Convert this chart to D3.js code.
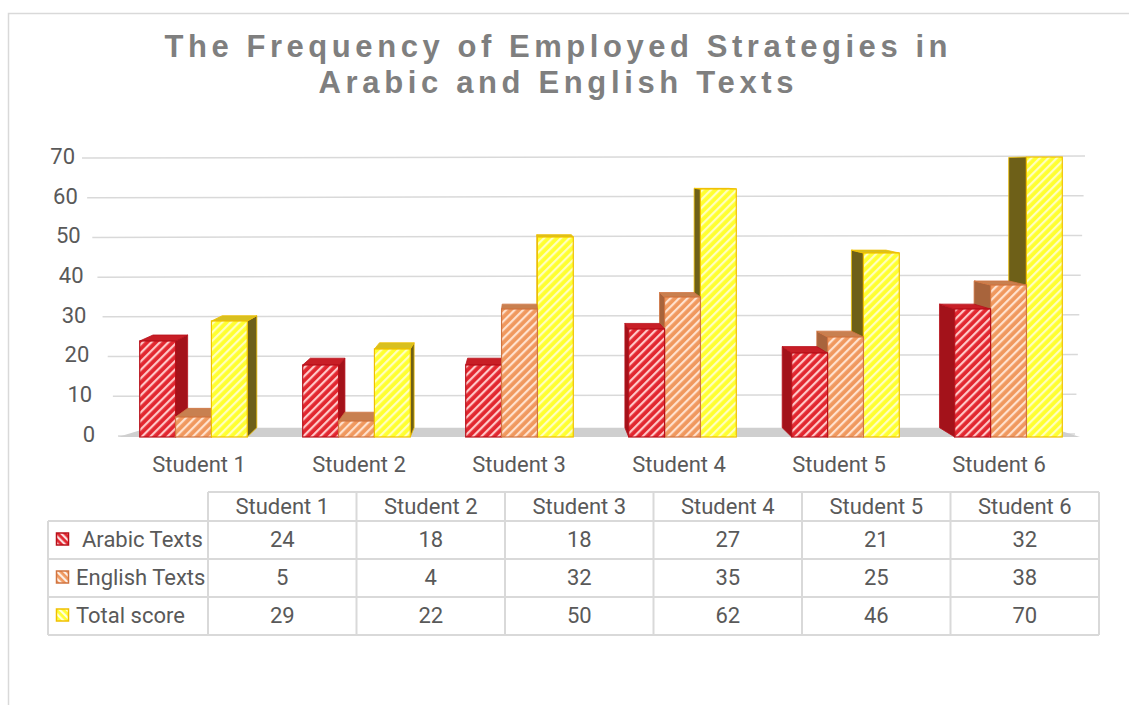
<!DOCTYPE html>
<html>
<head>
<meta charset="utf-8">
<script src="https://cdn.jsdelivr.net/npm/d3@7"></script>
<style>
  html, body { margin: 0; padding: 0; background: #ffffff; }
  svg { display: block; }
</style>
</head>
<body>
<svg id="chart" width="1129" height="705"></svg>
<script>
// ---------- data ----------
const categories = ["Student 1", "Student 2", "Student 3", "Student 4", "Student 5", "Student 6"];
const seriesNames = ["Arabic Texts", "English Texts", "Total score"];
const arabicTexts = [24, 18, 18, 27, 21, 32];
const englishTexts = [5, 4, 32, 35, 25, 38];
const totalScore = [29, 22, 50, 62, 46, 70];
const yTicks = [0, 10, 20, 30, 40, 50, 60, 70];
const titleLines = ["The Frequency of Employed Strategies in", "Arabic and English Texts"];

const seriesValues = [arabicTexts, englishTexts, totalScore];

// ---------- styles ----------
const styles = [
  { base: "#e2262f", stripe: "#ffc8c8", stroke: "#b8101a", side: "#a3121a", top: "#c81e26" },
  { base: "#f0985e", stripe: "#ffe2cf", stroke: "#d07440", side: "#a8643c", top: "#c88050" },
  { base: "#ffff30", stripe: "#ffffc0", stroke: "#f0c000", side: "#6e6018", top: "#d8c020" }
];
const textColor = "#595959";
const gridColor = "#d9d9d9";
const font = "Roboto, 'Open Sans', sans-serif";
const fs = 22;

const svg = d3.select("#chart");
const defs = svg.append("defs");

styles.forEach((s, i) => {
  const p = defs.append("pattern")
    .attr("id", "hatch" + i)
    .attr("patternUnits", "userSpaceOnUse")
    .attr("width", 6).attr("height", 6)
    .attr("patternTransform", "rotate(45)");
  p.append("rect").attr("width", 6).attr("height", 6).attr("fill", s.base);
  p.append("rect").attr("x", 0).attr("width", 2.2).attr("height", 6).attr("fill", s.stripe);
  const ps = defs.append("pattern")
    .attr("id", "hatchSmall" + i)
    .attr("patternUnits", "userSpaceOnUse")
    .attr("width", 5).attr("height", 5)
    .attr("patternTransform", "rotate(-45)");
  ps.append("rect").attr("width", 5).attr("height", 5).attr("fill", s.base);
  ps.append("rect").attr("width", 2.2).attr("height", 5).attr("fill", "#ffffff").attr("opacity", 0.85);
});

// ---------- chart border ----------
svg.append("path")
  .attr("d", "M8.5,705 L8.5,13.5 L1129,13.5")
  .attr("fill", "none").attr("stroke", gridColor).attr("stroke-width", 1.5);

// ---------- title ----------
const titleX = [556, 556];
const titleY = [57, 93];
const titleLen = [783, 475];
svg.append("g").selectAll("text").data(titleLines).join("text")
  .attr("x", (d, i) => titleX[i])
  .attr("y", (d, i) => titleY[i])
  .attr("text-anchor", "middle")
  .attr("textLength", (d, i) => titleLen[i])
  .attr("lengthAdjust", "spacing")
  .attr("font-family", "'Liberation Sans', Arial, sans-serif")
  .attr("font-weight", "bold")
  .attr("font-size", 31)
  .attr("fill", "#7f7f7f")
  .text(d => d);

// ---------- scales ----------
const yBar = d3.scaleLinear().domain([0, 70]).range([437, 157]);
const yGrid = d3.scaleLinear().domain([0, 70]).range([434, 156]);
const x = d3.scaleBand().domain(categories).range([112, 1090]).paddingInner(0.34).paddingOuter(0.17);
const xs = d3.scaleBand().domain(seriesNames).range([0, x.bandwidth()]);
const xLabel = d3.scalePoint().domain(categories).range([199, 999]);

// perspective
const vp = [520, 170];
const depth = 0.035;
const back = (px, py) => [px + (vp[0] - px) * depth, py + (vp[1] - py) * depth];

// ---------- gridlines ----------
const gridG = svg.append("g");
gridG.selectAll("line").data(yTicks).join("line")
  .attr("x1", d => 118 - d / 70 * 36)
  .attr("x2", d => 1075 + d / 70 * 10)
  .attr("y1", d => yGrid(d) + 2)
  .attr("y2", d => yGrid(d))
  .attr("stroke", gridColor).attr("stroke-width", 1.5);

// y labels
svg.append("g").selectAll("text").data(yTicks).join("text")
  .attr("x", d => 95 - d / 70 * 20)
  .attr("y", d => yGrid(d))
  .attr("dy", "0.36em")
  .attr("text-anchor", "end")
  .attr("font-family", font)
  .attr("font-size", fs)
  .attr("fill", textColor)
  .text(d => d);

// ---------- floor ----------
const fl = [[118, yBar(0)], [1080, yBar(0)]];
const flb = [back(135, yBar(0)), back(1070, yBar(0))];
svg.append("path")
  .attr("d", d3.line()([fl[0], fl[1], flb[1], flb[0]]) + "Z")
  .attr("fill", "#cfcfcf");

// ---------- bars ----------
const bars = [];
categories.forEach((c, ci) => {
  seriesNames.forEach((s, si) => {
    const x0 = x(c) + xs(s);
    const x1 = x0 + xs.bandwidth();
    bars.push({ c, s, si, v: seriesValues[si][ci], x0, x1 });
  });
});
// draw farthest from vanishing point first
bars.sort((a, b) => Math.abs((b.x0 + b.x1) / 2 - vp[0]) - Math.abs((a.x0 + a.x1) / 2 - vp[0]));

const barG = svg.append("g");
bars.forEach(b => {
  const st = styles[b.si];
  const yt = yBar(b.v), yb = yBar(0);
  const g = barG.append("g");
  if (b.x1 < vp[0]) {
    const p1 = back(b.x1, yt), p2 = back(b.x1, yb);
    g.append("path").attr("d", d3.line()([[b.x1, yt], p1, p2, [b.x1, yb]]) + "Z")
      .attr("fill", st.side).attr("stroke", st.stroke).attr("stroke-width", 0.8);
  } else if (b.x0 > vp[0]) {
    const p1 = back(b.x0, yt), p2 = back(b.x0, yb);
    g.append("path").attr("d", d3.line()([[b.x0, yt], p1, p2, [b.x0, yb]]) + "Z")
      .attr("fill", st.side).attr("stroke", st.stroke).attr("stroke-width", 0.8);
  }
  if (yt > vp[1]) {
    const p0 = back(b.x0, yt), p1 = back(b.x1, yt);
    g.append("path").attr("d", d3.line()([[b.x0, yt], p0, p1, [b.x1, yt]]) + "Z")
      .attr("fill", st.top).attr("stroke", st.stroke).attr("stroke-width", 0.8);
  }
  g.append("rect")
    .attr("x", b.x0).attr("y", yt)
    .attr("width", b.x1 - b.x0).attr("height", yb - yt)
    .attr("fill", `url(#hatch${b.si})`)
    .attr("stroke", st.stroke).attr("stroke-width", 1.2);
});

// ---------- category labels ----------
svg.append("g").selectAll("text").data(categories).join("text")
  .attr("x", d => xLabel(d))
  .attr("y", 464)
  .attr("dy", "0.36em")
  .attr("text-anchor", "middle")
  .attr("font-family", font)
  .attr("font-size", fs)
  .attr("fill", textColor)
  .text(d => d);

// ---------- data table ----------
const tableLeft = 48, tableRight = 1099;
const colX = d3.scaleBand().domain(categories).range([208, tableRight]);
const rowTops = [492, 521, 559, 597, 635];
const tbl = svg.append("g");
function tline(x1, y1, x2, y2) {
  tbl.append("line").attr("x1", x1).attr("y1", y1).attr("x2", x2).attr("y2", y2)
    .attr("stroke", gridColor).attr("stroke-width", 2);
}
tline(208, rowTops[0], tableRight, rowTops[0]);
for (let r = 1; r < rowTops.length; r++) tline(tableLeft, rowTops[r], tableRight, rowTops[r]);
tline(tableLeft, rowTops[1], tableLeft, rowTops[4]);
categories.forEach(c => tline(colX(c), rowTops[0], colX(c), rowTops[4]));
tline(tableRight, rowTops[0], tableRight, rowTops[4]);

tbl.selectAll("text.hdr").data(categories).join("text")
  .attr("class", "hdr")
  .attr("x", d => colX(d) + colX.bandwidth() / 2)
  .attr("y", (rowTops[0] + rowTops[1]) / 2)
  .attr("dy", "0.36em")
  .attr("text-anchor", "middle")
  .attr("font-family", font).attr("font-size", fs).attr("fill", textColor)
  .text(d => d);

const nameX = [82, 76, 76];
seriesNames.forEach((s, si) => {
  const yc = (rowTops[si + 1] + rowTops[si + 2]) / 2 - 1;
  const st = styles[si];
  tbl.append("rect")
    .attr("x", 56.5).attr("y", yc - 6)
    .attr("width", 12).attr("height", 12)
    .attr("fill", `url(#hatchSmall${si})`)
    .attr("stroke", st.stroke).attr("stroke-width", 1.5);
  tbl.append("text")
    .attr("x", nameX[si]).attr("y", yc)
    .attr("dy", "0.36em")
    .attr("font-family", font).attr("font-size", fs).attr("fill", textColor)
    .text(s);
  tbl.selectAll("text.v" + si).data(categories).join("text")
    .attr("class", "v" + si)
    .attr("x", d => colX(d) + colX.bandwidth() / 2)
    .attr("y", yc)
    .attr("dy", "0.36em")
    .attr("text-anchor", "middle")
    .attr("font-family", font).attr("font-size", fs).attr("fill", textColor)
    .text((d, ci) => seriesValues[si][ci]);
});
</script>
</body>
</html>
